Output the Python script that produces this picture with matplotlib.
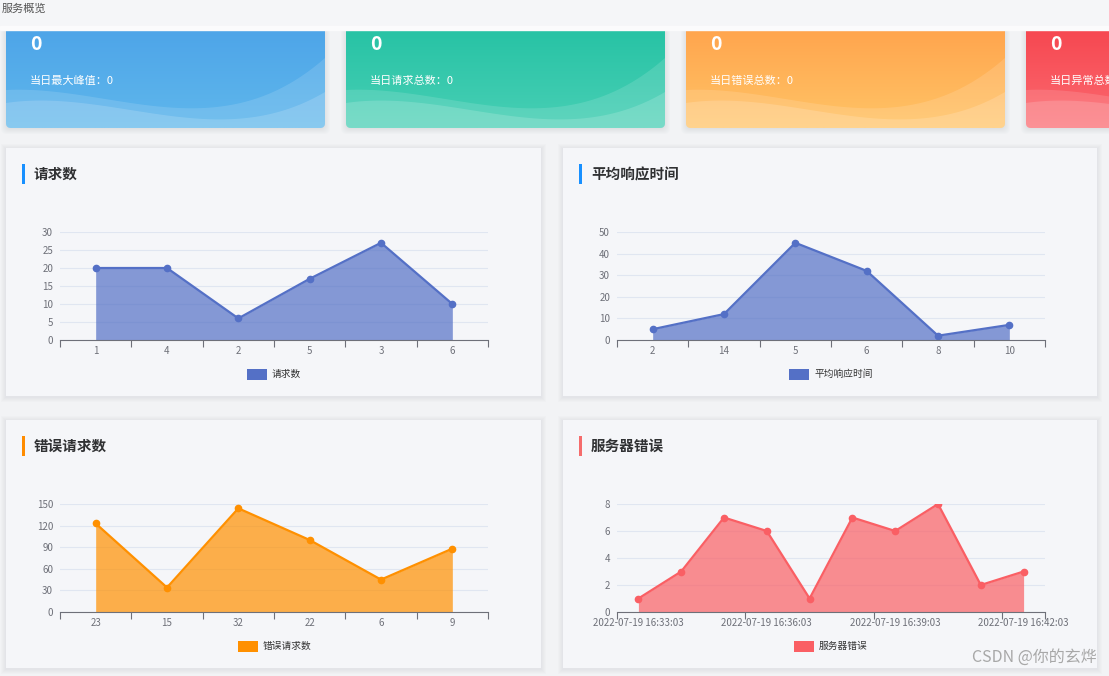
import numpy as np
import matplotlib
matplotlib.use('Agg')
import matplotlib.pyplot as plt
from matplotlib.patches import FancyBboxPatch, Rectangle, Polygon
from matplotlib.colors import to_rgb

plt.rcParams['font.family'] = ['Noto Sans CJK SC', 'DejaVu Sans']

W, H = 1109, 676

# ---- data ----
card_values = ['0', '0', '0', '0']
card_labels = ['当日最大峰值：0', '当日请求总数：0', '当日错误总数：0', '当日异常总数：0']

req_x = ['1', '4', '2', '5', '3', '6']
req_y = [20, 20, 6, 17, 27, 10]

rt_x = ['2', '14', '5', '6', '8', '10']
rt_y = [5, 12, 45, 32, 2, 7]

err_x = ['23', '15', '32', '22', '6', '9']
err_y = [123, 34, 144, 100, 45, 88]

srv_x = ['2022-07-19 16:33:03', '2022-07-19 16:34:03', '2022-07-19 16:35:03',
         '2022-07-19 16:36:03', '2022-07-19 16:37:03', '2022-07-19 16:38:03',
         '2022-07-19 16:39:03', '2022-07-19 16:40:03', '2022-07-19 16:41:03',
         '2022-07-19 16:42:03']
srv_y = [1, 3, 7, 6, 1, 7, 6, 8, 2, 3]

fig = plt.figure(figsize=(W / 100, H / 100), dpi=100)
fig.patch.set_facecolor('#f2f3f5')

bg = fig.add_axes([0, 0, 1, 1])
bg.set_axis_off()


def frac(x0, y0, x1, y1):
    return [x0 / W, 1 - y1 / H, (x1 - x0) / W, (y1 - y0) / H]


# ---- cards ----
card_grad = [('#4ba2e8', '#5fb7ec'), ('#22c1a2', '#48cfb5'),
             ('#ffa04a', '#ffc466'), ('#f5424c', '#fc6a70')]
for i in range(4):
    x0 = 6 + i * 340
    x1 = x0 + 319
    y0, y1 = 14, 128
    for k in range(6):
        bg.add_patch(FancyBboxPatch((x0 - k, y0), x1 - x0 + 2 * k, y1 - y0 + k + 1,
                                    boxstyle='round,pad=0,rounding_size=6',
                                    fc='#9aa0a8', ec='none', alpha=0.035, zorder=1))
    clip = FancyBboxPatch((x0, y0), x1 - x0, y1 - y0,
                          boxstyle='round,pad=0,rounding_size=5',
                          fc='none', ec='none', zorder=2)
    bg.add_patch(clip)
    c0, c1 = np.array(to_rgb(card_grad[i][0])), np.array(to_rgb(card_grad[i][1]))
    t = np.linspace(0, 1, 100)[:, None, None]
    grad = c0 * (1 - t) + c1 * t
    im = bg.imshow(grad, extent=(x0, x1, y1, y0), aspect='auto', zorder=2,
                   interpolation='bilinear')
    im.set_clip_path(clip)
    # decorative waves
    xs = np.linspace(0, 1, 80)
    p1 = np.polyfit([0, 0.35, 0.62, 1], [90, 101, 108, 58], 3)
    p2 = np.polyfit([0, 0.35, 0.62, 1], [103, 108, 119, 92], 3)
    for p, a in [(p1, 0.13), (p2, 0.16)]:
        ys = np.polyval(p, xs)
        pts = np.column_stack([x0 + xs * (x1 - x0), ys])
        pts = np.vstack([pts, [[x1, y1 + 2], [x0, y1 + 2]]])
        poly = Polygon(pts, closed=True, fc='white', ec='none', alpha=a, zorder=3)
        bg.add_patch(poly)
        poly.set_clip_path(clip)
    bg.text(x0 + 24, 45, card_values[i], color='white', fontsize=14,
            fontweight='bold', va='center', ha='left', zorder=4)
    bg.text(x0 + 24, 81, card_labels[i], color='white', fontsize=8,
            va='center', ha='left', zorder=4)

# header covers the top of the cards
bg.add_patch(Rectangle((0, 0), W, 27, color='#f5f6f8', zorder=6))
bg.add_patch(Rectangle((0, 26), W, 4, color='#fbfbfc', zorder=6))
bg.text(2, 9, '服务概览', fontsize=8, color='#555555', va='center', ha='left', zorder=7)

# ---- panels ----
panels = [
    (6, 148, 541, 396, '请求数', '#1890ff', req_x, req_y, '#5470c6', [0, 5, 10, 15, 20, 25, 30], 1),
    (563, 148, 1097, 396, '平均响应时间', '#1890ff', rt_x, rt_y, '#5470c6', [0, 10, 20, 30, 40, 50], 1),
    (6, 420, 541, 668, '错误请求数', '#ff8c00', err_x, err_y, '#ff9000', [0, 30, 60, 90, 120, 150], 1),
    (563, 420, 1097, 668, '服务器错误', '#f56c6c', srv_x, srv_y, '#fa5f64', [0, 2, 4, 6, 8], 3),
]

for (px0, py0, px1, py1, title, tcol, xs, ys, col, yt, step) in panels:
    for k in range(1, 6):
        bg.add_patch(Rectangle((px0 - k, py0 - k + 1), px1 - px0 + 2 * k, py1 - py0 + 2 * k,
                               fc='#8c9099', ec='none', alpha=0.022, zorder=1))
    bg.add_patch(Rectangle((px0, py0), px1 - px0, py1 - py0, fc='#f5f6f9', ec='none', zorder=2))
    bg.add_patch(Rectangle((px0 + 16, py0 + 16), 3, 20, fc=tcol, ec='none', zorder=3))
    bg.text(px0 + 28, py0 + 26, title, fontsize=10.5, fontweight='bold', color='#303133',
            va='center', ha='left', zorder=3)
    # legend
    cx = (px0 + px1) / 2
    lw = 25 + 9.4 * len(title)
    lx = cx - lw / 2
    bg.add_patch(Rectangle((lx, py0 + 221), 20, 11, fc=col, ec='none', zorder=3))
    bg.text(lx + 25, py0 + 226, title, fontsize=7, color='#333333', va='center',
            ha='left', zorder=3)

    ax = fig.add_axes(frac(px0 + 54, py0 + 84, px0 + 482, py0 + 192))
    ax.set_facecolor('none')
    n = len(xs)
    xi = np.arange(n)
    ax.fill_between(xi, 0, ys, color=col, alpha=0.7, lw=0, zorder=2)
    ax.plot(xi, ys, color=col, lw=1.6, marker='o', ms=4.5, zorder=3)
    ax.set_xlim(-0.5, n - 0.5)
    ax.set_ylim(0, yt[-1])
    ax.set_yticks(yt)
    ax.tick_params(axis='y', length=0, labelsize=7, labelcolor='#6e7079', pad=5)
    ax.grid(axis='y', color='#e0e6f1', lw=0.8, zorder=0)
    for s in ['top', 'right', 'left']:
        ax.spines[s].set_visible(False)
    ax.spines['bottom'].set_color('#6e7079')
    ax.spines['bottom'].set_zorder(4)
    major = [b - 0.5 for b in range(0, n, step)] + [n - 0.5]
    ax.set_xticks(major)
    ax.set_xticklabels([''] * len(major))
    ax.tick_params(axis='x', which='major', length=5, color='#6e7079')
    ax.set_xticks(list(range(0, n, step)), minor=True)
    ax.set_xticklabels([xs[j] for j in range(0, n, step)], minor=True)
    ax.tick_params(axis='x', which='minor', length=0, labelsize=7,
                   labelcolor='#6e7079', pad=4)
    ax.set_axisbelow(True)

bg.set_xlim(0, W)
bg.set_ylim(H, 0)

fig.text(1097 / W, 1 - 657 / H, 'CSDN @你的玄烨', fontsize=11.5, color='#a8a8a8',
         ha='right', va='center')

fig.savefig('out.png', dpi=100, facecolor=fig.get_facecolor())
